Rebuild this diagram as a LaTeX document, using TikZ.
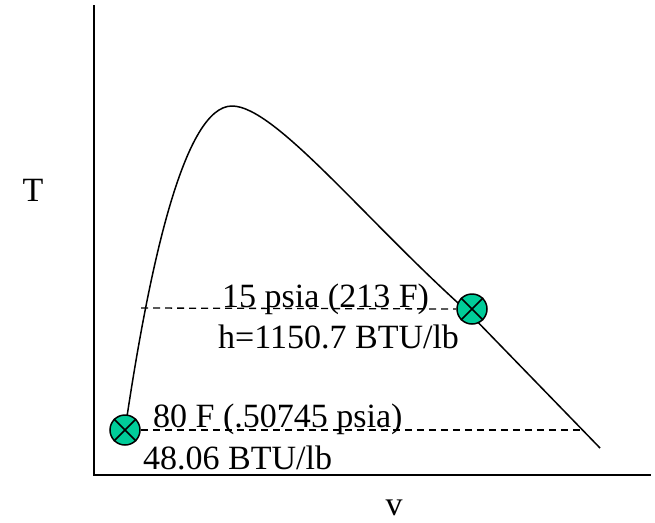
\documentclass[tikz,border=0pt]{standalone}
\usepackage{fontspec}
\setmainfont{Liberation Serif}
\definecolor{dotgreen}{HTML}{00CC99}

\begin{document}
\begin{tikzpicture}[
    x=1pt, y=-1pt,
    axisLine/.style={line width=2pt},
    domeLine/.style={line width=1.5pt, line join=round},
    levelLine/.style={line width=1.3pt, dash pattern=on 7pt off 5pt},
    stateDot/.style={
        circle, draw, line width=1.5pt, fill=dotgreen,
        minimum size=30pt, inner sep=0pt
    },
    lbl/.style={anchor=base west, inner sep=0pt, font=\fontsize{34}{40}\selectfont}
]
    \useasboundingbox (0,0) rectangle (655,522);

    % --- 1. Axes ---
    \coordinate (origin) at (94,475);
    \draw[axisLine] (94,5) -- (origin) -- (651,475);
    \node[lbl, anchor=center] (tlabel) at (33,190) {T};
    \node[lbl, anchor=center] (vlabel) at (394,508) {v};

    % --- 2. Saturation dome ---
    \coordinate (peak) at (232,106);
    \draw[domeLine] (125,430) .. controls (150,260) and (185,106) .. (peak)
        .. controls (275,106) and (365,220) .. (468,312)
        -- (600,448);
    \coordinate (leftSat) at (141,308);
    \coordinate (rightSat) at (583,430);

    % --- 3. States ---
    \node[stateDot] (vap) at (472,309) {};
    \node[stateDot] (liq) at (125,430) {};
    \foreach \s in {vap,liq}
        \draw[line width=1.5pt] (\s.north west) -- (\s.south east)
                                (\s.north east) -- (\s.south west);

    % --- 4. Pressure lines ---
    \draw[levelLine] (leftSat) -- (vap.west);
    \draw[levelLine] (liq.east) -- (rightSat);

    % --- 5. Labels ---
    \node[lbl] (vapTop) at (222,307) {15 psia (213 F)};
    \node[lbl] (vapBot) at (218,348) {h=1150.7 BTU/lb};
    \node[lbl] (liqTop) at (153,427) {80 F (.50745 psia)};
    \node[lbl] (liqBot) at (143,469) {48.06 BTU/lb};
\end{tikzpicture}
\end{document}
